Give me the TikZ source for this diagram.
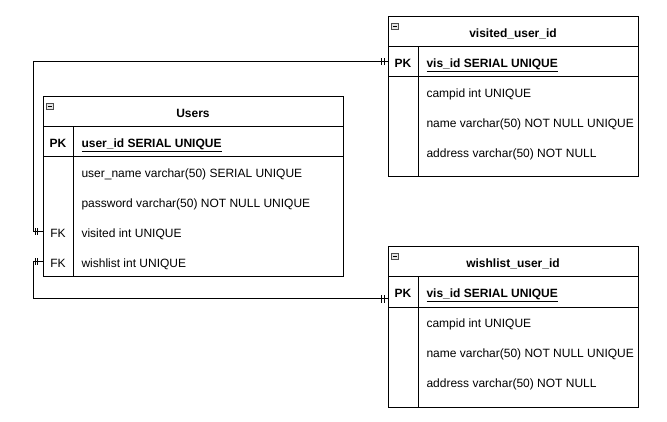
\documentclass[tikz,border=0pt]{standalone}
\usepackage{fontspec}
\setmainfont{Liberation Sans}
\usetikzlibrary{positioning}

\begin{document}
\begin{tikzpicture}[x=1pt,y=-1pt,line width=1pt,
	tbl/.style={draw,inner sep=0pt,outer sep=0pt,anchor=north west},
	icon/.style={draw=gray!60!black,fill=gray!20,line width=.6pt,minimum size=6.5pt,inner sep=0pt},
	row/.style={anchor=west,inner sep=0pt,text height=11.5pt,text depth=.5pt,font=\fontsize{12}{14}\selectfont},
	key/.style={inner sep=0pt,text height=11.5pt,text depth=.5pt,font=\fontsize{12}{14}\selectfont\bfseries},
	ttl/.style={inner sep=0pt,text height=11.5pt,text depth=.5pt,font=\fontsize{12}{14}\selectfont\bfseries}]

	\useasboundingbox (0,0) rectangle (667,422);

	% Users
	\node[tbl,minimum width=300pt,minimum height=180pt] (users) at (43,97) {};
	\draw (43,127) -- (343,127);
	\draw (43,157) -- (343,157);
	\draw (73,127) -- (73,277);
	\node[icon] (usersIcon) at (50,106.5) {};
	\draw[line width=.6pt] ([xshift=1.4pt]usersIcon.west) -- ([xshift=-1.4pt]usersIcon.east);
	\node[ttl] (usersTitle) at (193,112) {Users};
	\node[key] (usersPK) at (58,142) {PK};
	\node[row,font=\fontsize{12}{14}\selectfont\bfseries] (usersId) at (81,142) {\underline{user\_id SERIAL UNIQUE}};
	\node[row] (usersName) at (81,172) {user\_name varchar(50) SERIAL UNIQUE};
	\node[row] (usersPass) at (81,202) {password varchar(50) NOT NULL UNIQUE};
	\node[key,font=\fontsize{12}{14}\selectfont] (usersFKa) at (58,232) {FK};
	\node[row] (usersVis) at (81,232) {visited int UNIQUE};
	\node[key,font=\fontsize{12}{14}\selectfont] (usersFKb) at (58,262) {FK};
	\node[row] (usersWish) at (81,262) {wishlist int UNIQUE};

	% visited_user_id
	\node[tbl,minimum width=250pt,minimum height=160pt] (visited) at (388,17) {};
	\draw (388,47) -- (638,47);
	\draw (388,77) -- (638,77);
	\draw (418,47) -- (418,177);
	\node[icon] (visIcon) at (395,26.5) {};
	\draw[line width=.6pt] ([xshift=1.4pt]visIcon.west) -- ([xshift=-1.4pt]visIcon.east);
	\node[ttl] (visTitle) at (513,32) {visited\_user\_id};
	\node[key] (visPK) at (403,62) {PK};
	\node[row,font=\fontsize{12}{14}\selectfont\bfseries] (visId) at (426,62) {\underline{vis\_id SERIAL UNIQUE}};
	\node[row] (visCamp) at (426,92) {campid int UNIQUE};
	\node[row] (visName) at (426,122) {name varchar(50) NOT NULL UNIQUE};
	\node[row] (visAddr) at (426,152) {address varchar(50) NOT NULL};

	% wishlist_user_id
	\node[tbl,minimum width=250pt,minimum height=160pt] (wish) at (388,247) {};
	\draw (388,277) -- (638,277);
	\draw (388,307) -- (638,307);
	\draw (418,277) -- (418,407);
	\node[icon] (wishIcon) at (395,256.5) {};
	\draw[line width=.6pt] ([xshift=1.4pt]wishIcon.west) -- ([xshift=-1.4pt]wishIcon.east);
	\node[ttl] (wishTitle) at (513,262) {wishlist\_user\_id};
	\node[key] (wishPK) at (403,292) {PK};
	\node[row,font=\fontsize{12}{14}\selectfont\bfseries] (wishId) at (426,292) {\underline{vis\_id SERIAL UNIQUE}};
	\node[row] (wishCamp) at (426,322) {campid int UNIQUE};
	\node[row] (wishName) at (426,352) {name varchar(50) NOT NULL UNIQUE};
	\node[row] (wishAddr) at (426,382) {address varchar(50) NOT NULL};

	% relations
	\coordinate (visEnd) at (visited.west |- visPK);
	\coordinate (wishEnd) at ([yshift=-7pt]wish.west |- wishPK);
	\draw (users.west |- usersVis) -- ++(-10,0) |- (visEnd);
	\draw (users.west |- usersWish) -- ++(-10,0) |- (wishEnd);

	% mandatory one ticks
	\foreach \d in {5.5,8} {
		\draw ([xshift=-\d pt]users.west |- usersVis) ++(0,-3.5) -- ++(0,7);
		\draw ([xshift=-\d pt]users.west |- usersWish) ++(0,-3.5) -- ++(0,7);
	}
	\foreach \d in {4,6.5} {
		\draw ([xshift=-\d pt]visEnd) ++(0,-3.5) -- ++(0,7);
		\draw ([xshift=-\d pt]wishEnd) ++(0,-3.5) -- ++(0,7);
	}

\end{tikzpicture}
\end{document}
